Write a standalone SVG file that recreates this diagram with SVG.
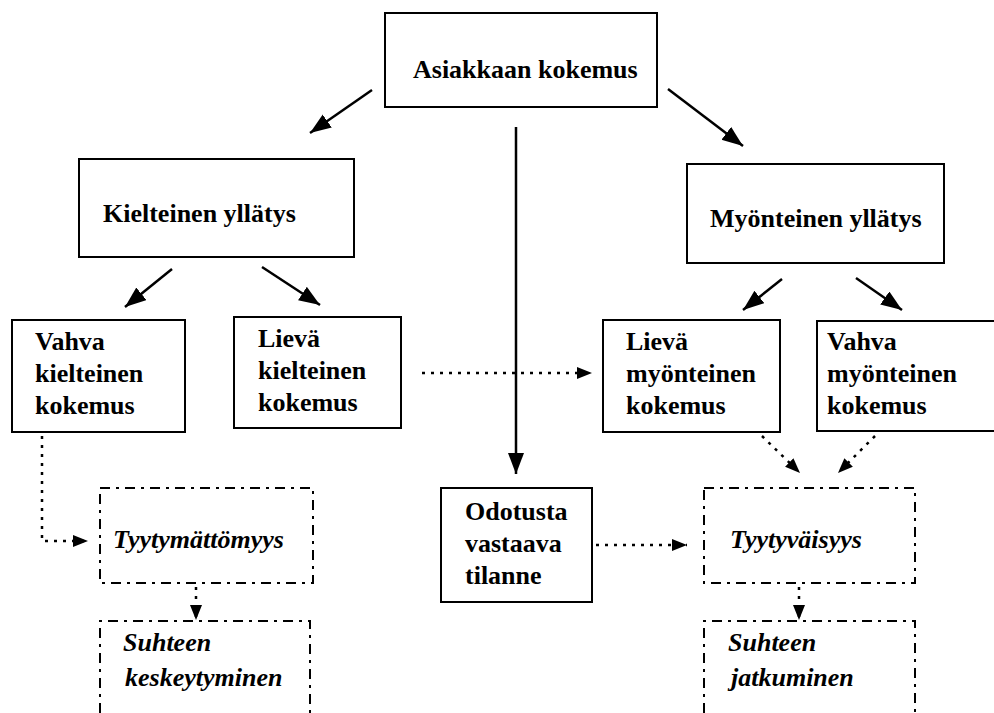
<svg xmlns="http://www.w3.org/2000/svg" width="994" height="713" viewBox="0 0 994 713">
<style>
  .box { fill: #fff; stroke: #000; stroke-width: 2; }
  .dbox { fill: none; stroke: #000; stroke-width: 2; stroke-dasharray: 10 6 3 6; }
  .t { font-family: "Liberation Serif", "Times New Roman", Times, serif; font-weight: bold; font-size: 26px; fill: #000; }
  .ti { font-style: italic; }
  .solid { fill: none; stroke: #000; stroke-width: 2.5; }
  .dot { fill: none; stroke: #000; stroke-width: 2.5; stroke-dasharray: 3 6; }
</style>
<defs>
  <marker id="ah" markerUnits="userSpaceOnUse" markerWidth="22" markerHeight="18" refX="21" refY="8" orient="auto">
    <path d="M0,0 L21,8 L0,16 z" fill="#000"/>
  </marker>
  <marker id="ahd" markerUnits="userSpaceOnUse" markerWidth="16" markerHeight="14" refX="15" refY="6" orient="auto">
    <path d="M0,0 L15,6 L0,12 z" fill="#000"/>
  </marker>
</defs>
<rect width="994" height="713" fill="#fff"/>

<g id="connectors">
  <line class="solid" x1="372" y1="90" x2="310" y2="133" marker-end="url(#ah)"/>
  <line class="solid" x1="668" y1="89" x2="743" y2="146" marker-end="url(#ah)"/>
  <line class="solid" x1="516" y1="127" x2="516" y2="474" marker-end="url(#ah)"/>
  <line class="solid" x1="172" y1="269" x2="125" y2="307" marker-end="url(#ah)"/>
  <line class="solid" x1="262" y1="267" x2="320" y2="305" marker-end="url(#ah)"/>
  <line class="solid" x1="782" y1="279" x2="743" y2="310" marker-end="url(#ah)"/>
  <line class="solid" x1="856" y1="278" x2="902" y2="310" marker-end="url(#ah)"/>
  <path class="dot" d="M42,436 V541 H88" marker-end="url(#ahd)"/>
  <path class="dot" d="M196,587 V620" marker-end="url(#ahd)"/>
  <path class="dot" d="M422,373 H592" marker-end="url(#ahd)"/>
  <path class="dot" d="M596,545 H687" marker-end="url(#ahd)"/>
  <path class="dot" d="M762,436 L800,473" marker-end="url(#ahd)"/>
  <path class="dot" d="M875,436 L838,473" marker-end="url(#ahd)"/>
  <path class="dot" d="M799,587 V620" marker-end="url(#ahd)"/>
</g>

<g id="asiakkaan-kokemus">
  <rect class="box" x="385" y="13" width="272" height="94"/>
  <text class="t" x="413" y="78">Asiakkaan kokemus</text>
</g>
<g id="kielteinen-yllatys">
  <rect class="box" x="79" y="159" width="275" height="98"/>
  <text class="t" x="103" y="222">Kielteinen yllätys</text>
</g>
<g id="myonteinen-yllatys">
  <rect class="box" x="687" y="164" width="257" height="99"/>
  <text class="t" x="710" y="227">Myönteinen yllätys</text>
</g>
<g id="vahva-kielteinen">
  <rect class="box" x="12" y="320" width="173" height="112"/>
  <text class="t" x="35" y="350">Vahva</text>
  <text class="t" x="35" y="382">kielteinen</text>
  <text class="t" x="35" y="414">kokemus</text>
</g>
<g id="lieva-kielteinen">
  <rect class="box" x="234" y="317" width="167" height="111"/>
  <text class="t" x="258" y="347">Lievä</text>
  <text class="t" x="258" y="379">kielteinen</text>
  <text class="t" x="258" y="411">kokemus</text>
</g>
<g id="lieva-myonteinen">
  <rect class="box" x="603" y="320" width="177" height="112"/>
  <text class="t" x="626" y="350">Lievä</text>
  <text class="t" x="626" y="382">myönteinen</text>
  <text class="t" x="626" y="414">kokemus</text>
</g>
<g id="vahva-myonteinen">
  <rect class="box" x="817" y="321" width="190" height="110"/>
  <text class="t" x="827" y="350">Vahva</text>
  <text class="t" x="827" y="382">myönteinen</text>
  <text class="t" x="827" y="414">kokemus</text>
</g>
<g id="odotusta-vastaava">
  <rect class="box" x="441" y="488" width="151" height="114"/>
  <text class="t" x="465" y="520">Odotusta</text>
  <text class="t" x="465" y="552">vastaava</text>
  <text class="t" x="465" y="584">tilanne</text>
</g>
<g id="tyytymattomyys">
  <rect class="dbox" x="100" y="488" width="213" height="95"/>
  <text class="t ti" x="113" y="548">Tyytymättömyys</text>
</g>
<g id="tyytyvaisyys">
  <rect class="dbox" x="704" y="488" width="211" height="95"/>
  <text class="t ti" x="730" y="548">Tyytyväisyys</text>
</g>
<g id="suhteen-keskeytyminen">
  <path class="dbox" d="M100,713 V621 H310 V713"/>
  <text class="t ti" x="123" y="651">Suhteen</text>
  <text class="t ti" x="125" y="686">keskeytyminen</text>
</g>
<g id="suhteen-jatkuminen">
  <path class="dbox" d="M704,713 V621 H915 V713"/>
  <text class="t ti" x="728" y="651">Suhteen</text>
  <text class="t ti" x="731" y="686">jatkuminen</text>
</g>
</svg>
